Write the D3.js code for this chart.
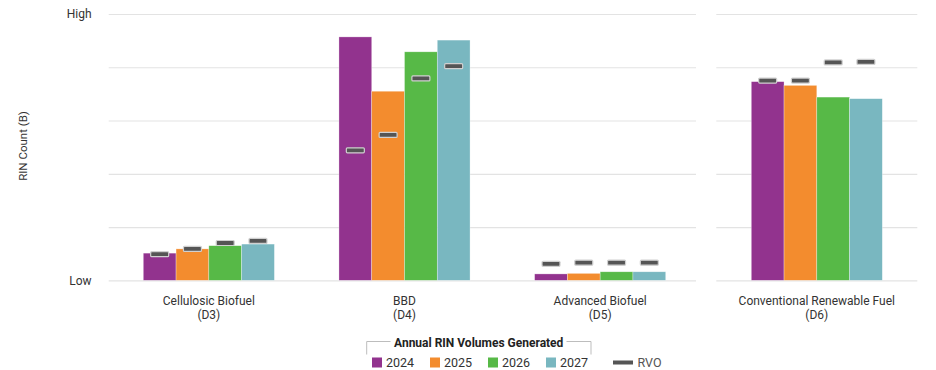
<!DOCTYPE html>
<html>
<head>
<meta charset="utf-8">
<script src="https://cdn.jsdelivr.net/npm/d3@7"></script>
<style>
  body { margin: 0; background: #fff; }
  svg { display: block; font-family: Roboto, "Open Sans", sans-serif; }
</style>
</head>
<body>
<div id="chart"></div>
<script>
// categories (scale 0 = Low, 5 = High)
const leftCats = ['Cellulosic Biofuel|(D3)', 'BBD|(D4)', 'Advanced Biofuel|(D5)'];
const rightCats = ['Conventional Renewable Fuel|(D6)'];
const categories = leftCats.concat(rightCats);
const years = ['2024', '2025', '2026', '2027'];
const colors = ['#92338e', '#f38c2e', '#57b947', '#79b7c0'];

// generated RIN volumes per year, one value per category
const gen2024 = [0.51, 4.57, 0.12, 3.73];
const gen2025 = [0.59, 3.55, 0.13, 3.66];
const gen2026 = [0.65, 4.29, 0.16, 3.44];
const gen2027 = [0.68, 4.51, 0.16, 3.41];

// RVO markers
const rvo2024 = [0.49, 2.44, 0.31, 3.75];
const rvo2025 = [0.59, 2.73, 0.33, 3.75];
const rvo2026 = [0.70, 3.79, 0.33, 4.09];
const rvo2027 = [0.74, 4.02, 0.33, 4.10];

const yTicks = [0, 1, 2, 3, 4, 5];
const yTickLabels = { 0: 'Low', 5: 'High' };

const genByYear = [gen2024, gen2025, gen2026, gen2027];
const rvoByYear = [rvo2024, rvo2025, rvo2026, rvo2027];

const data = [];
categories.forEach((cat, i) => {
  years.forEach((yr, j) => {
    data.push({ cat, year: yr, value: genByYear[j][i], rvo: rvoByYear[j][i] });
  });
});

const width = 936;
const height = 370;

const svg = d3.select('#chart')
  .append('svg')
  .attr('width', width)
  .attr('height', height);

const yScale = d3.scaleLinear().domain([0, 5]).range([280.3, 14]);

const panels = [
  { cats: leftCats, grid: [108.7, 696], band: [111, 698], pi: 0.33, po: 0.165 },
  { cats: rightCats, grid: [716.3, 917.3], band: [716.3, 917.3], pi: 0, po: 0.267 }
];

panels.forEach((p) => {
  const xScale = d3.scaleBand().domain(p.cats).range(p.band)
    .paddingInner(p.pi).paddingOuter(p.po);
  const xSub = d3.scaleBand().domain(years).range([0, xScale.bandwidth()]);

  // gridlines
  svg.append('g')
    .attr('class', 'gridlines')
    .attr('transform', `translate(${p.grid[0]}, 0)`)
    .call(d3.axisLeft(yScale).tickValues(yTicks).tickFormat('').tickSize(-(p.grid[1] - p.grid[0])))
    .call((g) => g.select('.domain').remove())
    .call((g) => g.selectAll('line').attr('stroke', '#e3e3e3').attr('stroke-width', 1.2));

  const rows = data.filter((d) => p.cats.includes(d.cat));

  // bars
  svg.append('g')
    .selectAll('rect')
    .data(rows)
    .join('rect')
    .attr('x', (d) => xScale(d.cat) + xSub(d.year))
    .attr('y', (d) => yScale(d.value))
    .attr('width', xSub.bandwidth())
    .attr('height', (d) => yScale(0) - yScale(d.value))
    .attr('fill', (d) => colors[years.indexOf(d.year)])
    .attr('stroke', '#ffffff')
    .attr('stroke-opacity', 0.5)
    .attr('stroke-width', 0.6);

  // RVO markers
  svg.append('g')
    .selectAll('rect')
    .data(rows)
    .join('rect')
    .attr('x', (d) => xScale(d.cat) + xSub(d.year) + xSub.bandwidth() / 2 - 9)
    .attr('y', (d) => yScale(d.rvo) - 2.5)
    .attr('width', 18)
    .attr('height', 5)
    .attr('rx', 1)
    .attr('fill', '#555555')
    .attr('stroke', '#d0d0d0')
    .attr('stroke-width', 1.2);

  // category labels
  const labels = svg.append('g')
    .selectAll('text')
    .data(p.cats)
    .join('text')
    .attr('text-anchor', 'middle')
    .attr('font-size', 12)
    .attr('fill', '#333');
  labels.append('tspan')
    .attr('x', (d) => xScale(d) + xScale.bandwidth() / 2)
    .attr('y', 304.5)
    .text((d) => d.split('|')[0]);
  labels.append('tspan')
    .attr('x', (d) => xScale(d) + xScale.bandwidth() / 2)
    .attr('y', 319)
    .text((d) => d.split('|')[1]);
});

// y tick labels
svg.append('g')
  .selectAll('text')
  .data(yTicks.filter((t) => yTickLabels[t]))
  .join('text')
  .attr('x', 91.5)
  .attr('y', (d) => yScale(d) + 4.3)
  .attr('text-anchor', 'end')
  .attr('font-size', 12)
  .attr('fill', '#333')
  .text((d) => yTickLabels[d]);

// y axis title
svg.append('text')
  .attr('transform', 'translate(26.5, 146) rotate(-90)')
  .attr('text-anchor', 'middle')
  .attr('font-size', 11.5)
  .attr('fill', '#333')
  .text('RIN Count (B)');

// legend
const legend = svg.append('g').attr('class', 'legend');

legend.append('path')
  .attr('d', 'M366.7,354.5V341.5H390.5M566.5,341.5H591V354.5')
  .attr('fill', 'none')
  .attr('stroke', '#bdbdbd')
  .attr('stroke-width', 1);

legend.append('text')
  .attr('x', 478.7)
  .attr('y', 346.5)
  .attr('text-anchor', 'middle')
  .attr('font-size', 12)
  .attr('font-weight', 'bold')
  .attr('fill', '#222')
  .text('Annual RIN Volumes Generated');

const items = legend.selectAll('g.item')
  .data(years)
  .join('g')
  .attr('class', 'item')
  .attr('transform', (d, i) => `translate(${372 + i * 58}, 0)`);

items.append('rect')
  .attr('y', 357.5)
  .attr('width', 10)
  .attr('height', 10)
  .attr('fill', (d, i) => colors[i]);

items.append('text')
  .attr('x', 14)
  .attr('y', 367)
  .attr('font-size', 12.5)
  .attr('fill', '#333')
  .text((d) => d);

legend.append('rect')
  .attr('x', 613)
  .attr('y', 360.5)
  .attr('width', 20)
  .attr('height', 4)
  .attr('fill', '#555');

legend.append('text')
  .attr('x', 637.5)
  .attr('y', 367)
  .attr('font-size', 12.5)
  .attr('fill', '#555')
  .text('RVO');
</script>
</body>
</html>
